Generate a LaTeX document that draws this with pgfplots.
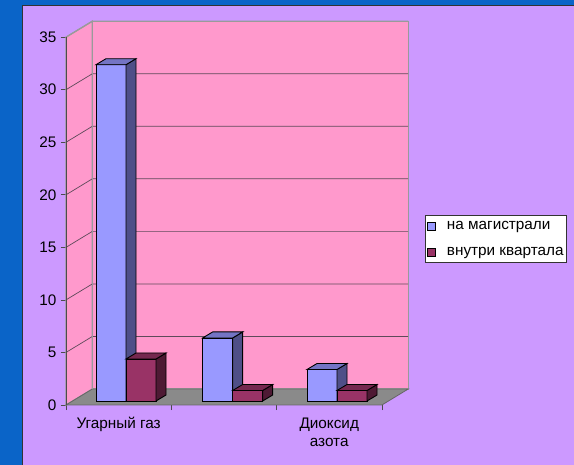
\documentclass[border=0pt]{standalone}
\usepackage{fontspec}
\setmainfont{Liberation Sans}
\usepackage{pgfplots}
\pgfplotsset{compat=1.18}
\definecolor{slide}{HTML}{0A64C8}
\definecolor{lav}{HTML}{CC99FF}
\definecolor{wallpink}{HTML}{FF99CC}
\definecolor{floorgray}{HTML}{8A8A8A}
\definecolor{bfront}{HTML}{9999FF}
\definecolor{bside}{HTML}{4F4F88}
\definecolor{btop}{HTML}{7474C4}
\definecolor{mfront}{HTML}{993366}
\definecolor{mside}{HTML}{4E1A34}
\definecolor{mtop}{HTML}{75284F}
\definecolor{gridc}{HTML}{5E4A5A}
\definecolor{edgec}{HTML}{9A9A9A}

\newcommand\bw{0.285}
\newcommand\ddx{0.095}
\newcommand\ddy{0.571}
% #1 left x of front face, #2 value, #3 front, #4 side, #5 top colour
\newcommand\tdbar[5]{%
 \pgfmathsetmacro\xa{#1}%
 \pgfmathsetmacro\xb{#1+\bw}%
 \pgfmathsetmacro\xc{#1+\bw+\ddx}%
 \pgfmathsetmacro\xd{#1+\ddx}%
 \pgfmathsetmacro\yv{#2}%
 \pgfmathsetmacro\yt{#2+\ddy}%
 \addplot[fill=#3,draw=black,line width=0.9pt,forget plot] coordinates {(\xa,0) (\xb,0) (\xb,\yv) (\xa,\yv)} -- cycle;
 \addplot[fill=#4,draw=black,line width=0.9pt,forget plot] coordinates {(\xb,0) (\xc,\ddy) (\xc,\yt) (\xb,\yv)} -- cycle;
 \addplot[fill=#5,draw=black,line width=0.9pt,forget plot] coordinates {(\xa,\yv) (\xb,\yv) (\xc,\yt) (\xd,\yt)} -- cycle;
}

\begin{document}
\begin{tikzpicture}
\useasboundingbox (0,0) rectangle (574pt,-465pt);
\clip (0,0) rectangle (574pt,-465pt);
\fill[slide] (0,0) rectangle (574pt,-465pt);
\filldraw[fill=lav, draw=black!80, line width=1pt] (22pt,-6pt) rectangle (600pt,-500pt);
\begin{axis}[
  at={(66pt,-405pt)}, anchor=south west,
  scale only axis, width=342.2pt, height=383.8pt,
  xmin=0, xmax=3.25, ymin=-0.38, ymax=36.14,
  clip=false,
  axis x line*=bottom, axis y line*=left,
  axis line style={draw=none},
  tick align=outside,
  major tick length=5pt, minor tick length=5pt,
  tick style={draw=black!70, line width=0.7pt},
  ytick={-0.38,4.62,9.62,14.62,19.62,24.62,29.62,34.62},
  yticklabels={0,5,10,15,20,25,30,35},
  xtick={0.5,1.5,2.5},
  xticklabels={Угарный газ,{},{Диоксид\\азота}},
  major x tick style={draw=none},
  minor xtick={0,1,2,3},
  /pgf/number format/assume math mode=true,
  ticklabel style={font=\fontsize{15.3}{18}\selectfont},
  xticklabel style={align=center, yshift=-4pt},
  yticklabel style={xshift=-1pt},
  legend style={at={(1.049,0.495)}, anchor=north west, draw=black!80, line width=0.6pt,
    fill=white, font=\fontsize{15.3}{18}\selectfont, row sep=14pt, column sep=10pt,
    inner xsep=2pt, inner ysep=5pt, nodes={inner sep=1pt}},
  legend cell align=left,
  legend image code/.code={\draw[#1,line width=0.7pt] (1pt,-4pt) rectangle (9pt,4pt);},
]
\addlegendimage{fill=bfront, draw=black}
\addlegendentry{на магистрали}
\addlegendimage{fill=mfront, draw=black}
\addlegendentry{внутри квартала}

% walls and floor
\addplot[fill=wallpink, draw=edgec, line width=1.2pt, forget plot] coordinates {(0,-0.38) (0.25,1.14) (0.25,36.14) (0,34.62)} -- cycle;
\addplot[fill=wallpink, draw=edgec, line width=1.2pt, forget plot] coordinates {(0.25,1.14) (3.25,1.14) (3.25,36.14) (0.25,36.14)} -- cycle;
\addplot[fill=floorgray, draw=black!60, line width=0.8pt, forget plot] coordinates {(0,-0.38) (3,-0.38) (3.25,1.14) (0.25,1.14)} -- cycle;

% gridlines
\addplot[gridc, line width=0.7pt, forget plot] coordinates {(0,4.62) (0.25,6.14) (3.25,6.14)};
\addplot[gridc, line width=0.7pt, forget plot] coordinates {(0,9.62) (0.25,11.14) (3.25,11.14)};
\addplot[gridc, line width=0.7pt, forget plot] coordinates {(0,14.62) (0.25,16.14) (3.25,16.14)};
\addplot[gridc, line width=0.7pt, forget plot] coordinates {(0,19.62) (0.25,21.14) (3.25,21.14)};
\addplot[gridc, line width=0.7pt, forget plot] coordinates {(0,24.62) (0.25,26.14) (3.25,26.14)};
\addplot[gridc, line width=0.7pt, forget plot] coordinates {(0,29.62) (0.25,31.14) (3.25,31.14)};
\addplot[edgec, line width=1.2pt, forget plot] coordinates {(0,34.62) (0.25,36.14) (3.25,36.14)};
\addplot[edgec, line width=1.2pt, forget plot] coordinates {(0.25,1.14) (0.25,36.14)};
% front value axis
\addplot[black!70, line width=0.8pt, forget plot] coordinates {(0,-0.38) (0,34.62)};

% bars: на магистрали / внутри квартала
\tdbar{0.285}{32}{bfront}{bside}{btop}
\tdbar{0.570}{4}{mfront}{mside}{mtop}
\tdbar{1.298}{6}{bfront}{bside}{btop}
\tdbar{1.583}{1}{mfront}{mside}{mtop}
\tdbar{2.289}{3}{bfront}{bside}{btop}
\tdbar{2.574}{1}{mfront}{mside}{mtop}
\end{axis}
\end{tikzpicture}
\end{document}
